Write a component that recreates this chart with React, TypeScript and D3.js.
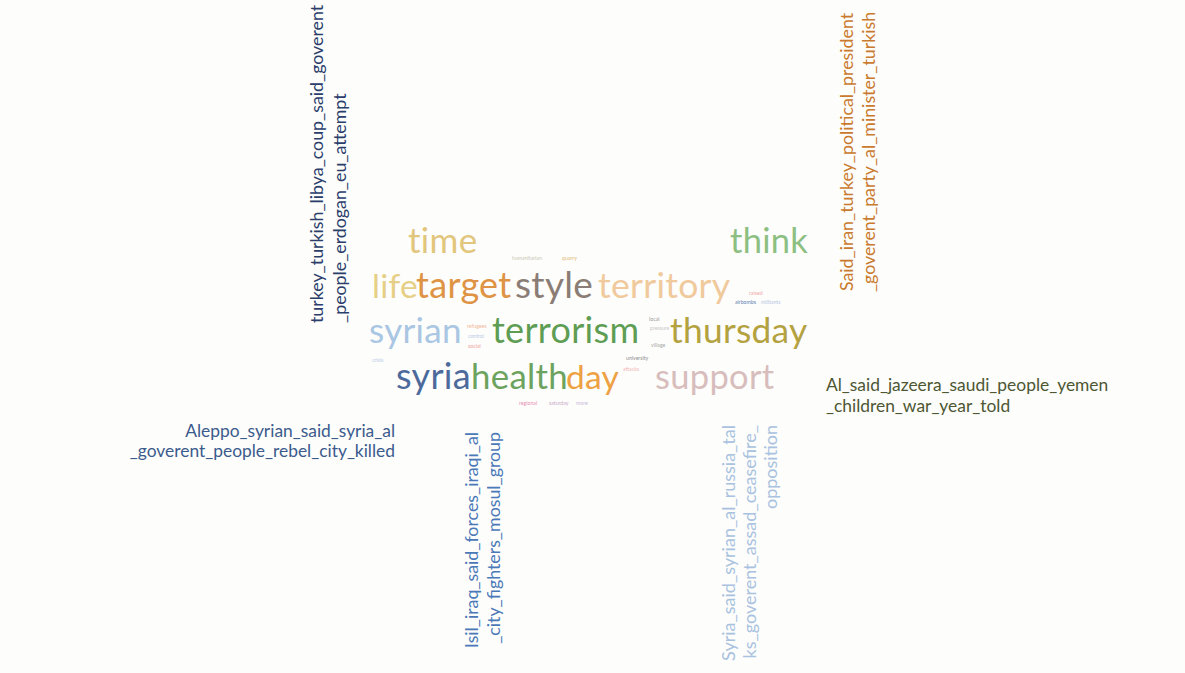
import React from "react";
import * as d3 from "d3";

// ---- data ----
const bigWords = ["time", "think", "life", "target", "style", "territory", "syrian", "terrorism", "thursday", "syria", "health", "day", "support"];
const bigWeights = [34, 33.5, 32.5, 35, 36, 34.5, 34, 35, 34.3, 35, 33.8, 32.5, 33.5];
const bigColors = ["#e2c67c", "#8dbf82", "#e6cf86", "#df9445", "#8b7d75", "#f0c99c", "#a9c6e3", "#5e9d53", "#b4a241", "#4d6a9d", "#6ca35e", "#eda142", "#d8bdbd"];

const smallWords = ["humanitarian", "quarry", "raised", "airbombs", "militants", "local", "pressure", "village", "university", "attacks", "refugees", "control", "social", "crisis", "regional", "saturday", "more"];
const smallColors = ["#c9c9b4", "#e2b774", "#f2a9a9", "#5d7fb2", "#b7c6e2", "#9b9b9b", "#c8c8c8", "#a8a8a8", "#8f8f8f", "#f3b6b6", "#f2b99a", "#b9cbe6", "#f0a1a1", "#b9cbe6", "#e68fb2", "#c9a9c9", "#c9b9d9"];

const topicLabels = [
  ["turkey_turkish_libya_coup_said_goverent", "_people_erdogan_eu_attempt"],
  ["Said_iran_turkey_political_president", "_goverent_party_al_minister_turkish"],
  ["Aleppo_syrian_said_syria_al", "_goverent_people_rebel_city_killed"],
  ["Al_said_jazeera_saudi_people_yemen", "_children_war_year_told"],
  ["Isil_iraq_said_forces_iraqi_al", "_city_fighters_mosul_group"],
  ["Syria_said_syrian_al_russia_tal", "ks_goverent_assad_ceasefire_", "opposition"],
];
const topicColors = ["#2b3d6b", "#c97a2e", "#3b5b8d", "#4d5733", "#4b79b8", "#a9c2df"];

// ---- layout (positions, not data) ----
const bigPos: [number, number][] = [
  [408, 253], [730, 253],
  [372, 298], [416, 298], [515, 298], [598, 298],
  [369, 343], [492, 343], [670, 343],
  [396, 389], [471, 389], [566, 389], [655, 389],
];
const smallPos: [number, number][] = [
  [512, 260], [562, 260], [749, 295], [735, 304], [761, 304],
  [649, 321], [650, 330], [651, 347], [626, 360], [623, 371],
  [467, 328], [468, 338], [468, 348], [372, 362],
  [519, 405], [549, 405], [576, 405],
];
// label placement: x, y, rotate, anchor, line step
const labelPos = [
  { x: 323, y: 323, rot: -90, anchor: "start", dx: 23, size: 17.8 },
  { x: 853, y: 152, rot: -90, anchor: "middle", dx: 22, size: 17.8 },
  { x: 395, y: 437, rot: 0, anchor: "end", dx: 19.5, size: 17.4 },
  { x: 826, y: 391, rot: 0, anchor: "start", dx: 21, size: 17.4 },
  { x: 478, y: 432, rot: -90, anchor: "end", dx: 22, size: 17.8 },
  { x: 735, y: 425, rot: -90, anchor: "end", dx: 21, size: 18 },
];

const fontScale = d3.scaleLinear().domain([30, 36]).range([31, 37]);
const FONT = "Lato, 'Open Sans', sans-serif";

export default function App() {
  return (
    <svg
      width={1185}
      height={673}
      style={{ position: "absolute", left: 0, top: 0, background: "#fdfdfb" }}
      fontFamily={FONT}
    >
      <rect width={1185} height={673} fill="#fdfdfb" />
      {bigWords.map((w, i) => (
        <text
          key={w}
          x={bigPos[i][0]}
          y={bigPos[i][1]}
          fontSize={fontScale(bigWeights[i])}
          fill={bigColors[i]}
          style={{ letterSpacing: "0.3px" }}
        >
          {w}
        </text>
      ))}
      {smallWords.map((w, i) => (
        <text key={w} x={smallPos[i][0]} y={smallPos[i][1]} fontSize={5.2} fill={smallColors[i]}>
          {w}
        </text>
      ))}
      {topicLabels.map((lines, i) => {
        const p = labelPos[i];
        return (
          <g key={i} transform={`translate(${p.x},${p.y}) rotate(${p.rot})`}>
            {lines.map((l, j) => (
              <text
                key={j}
                x={0}
                y={j * p.dx}
                textAnchor={p.anchor}
                fontSize={p.size}
                fill={topicColors[i]}
              >
                {l}
              </text>
            ))}
          </g>
        );
      })}
    </svg>
  );
}
